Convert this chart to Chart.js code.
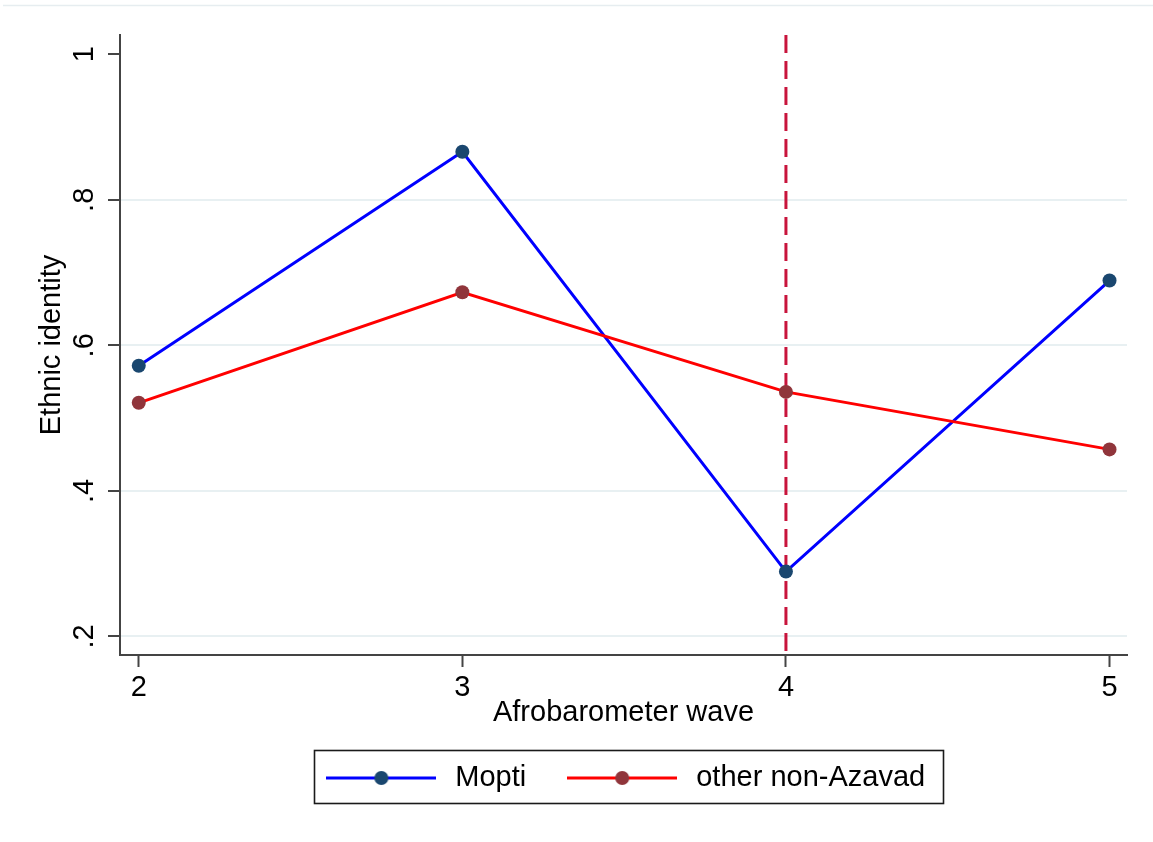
<!DOCTYPE html>
<html>
<head>
<meta charset="utf-8">
<script src="https://cdn.jsdelivr.net/npm/chart.js@4/dist/chart.umd.min.js"></script>
<style>
  html, body { margin: 0; padding: 0; background: #ffffff; }
  canvas { display: block; }
</style>
</head>
<body>
<canvas id="chart" width="1153" height="842"></canvas>
<script>
// Share of respondents identifying ethnically, by Afrobarometer wave
const waves = [2, 3, 4, 5];
const moptiValues = [0.572, 0.866, 0.289, 0.689];
const otherValues = [0.521, 0.673, 0.536, 0.457];
const seriesNames = ['Mopti', 'other non-Azavad'];

const xTickValues = [2, 3, 4, 5];
const xTickLabels = ['2', '3', '4', '5'];
const yTickValues = [0.2, 0.4, 0.6, 0.8, 1];
const yTickLabels = ['.2', '.4', '.6', '.8', '1'];

const eventWave = 4;          // reference line
const xRange = [1.942, 5.054];
const yRange = [0.1744, 1.0265];

const FONT = "'Liberation Sans', Arial, Helvetica, sans-serif";
Chart.defaults.font.family = FONT;
Chart.defaults.font.size = 29;
Chart.defaults.color = '#000000';

const AXIS = '#444444';
const GRID = '#e8f0f2';

// legend sample: a short line with a marker in the middle
function makeSample(lineColor, dotColor) {
  const c = document.createElement('canvas');
  c.width = 110; c.height = 18;
  const g = c.getContext('2d');
  g.strokeStyle = lineColor;
  g.lineWidth = 3;
  g.beginPath(); g.moveTo(0, 9); g.lineTo(110, 9); g.stroke();
  g.fillStyle = dotColor;
  g.beginPath(); g.arc(55, 9, 7, 0, Math.PI * 2); g.fill();
  return c;
}

const series = [
  { name: seriesNames[0], values: moptiValues, line: '#0000ff', marker: '#1a476f', order: 2 },
  { name: seriesNames[1], values: otherValues, line: '#ff0000', marker: '#90353b', order: 1 }
];

const datasets = series.map(s => ({
  label: s.name,
  data: waves.map((w, i) => ({ x: w, y: s.values[i] })),
  borderColor: s.line,
  borderWidth: 3,
  pointRadius: 7,
  pointHoverRadius: 7,
  pointBackgroundColor: s.marker,
  pointBorderWidth: 0,
  tension: 0,
  order: s.order
}));

datasets.push({
  label: 'event',
  data: [{ x: eventWave, y: yRange[1] }, { x: eventWave, y: yRange[0] }],
  borderColor: '#c8143c',
  borderWidth: 3,
  borderDash: [18, 8],
  pointRadius: 0,
  pointHoverRadius: 0,
  order: 10
});

// frame around the legend and the thin rule at the top of the page
const decorations = {
  id: 'decorations',
  afterDraw(chart) {
    const ctx = chart.ctx;
    ctx.save();
    ctx.strokeStyle = '#e6edf0';
    ctx.lineWidth = 1.5;
    ctx.beginPath(); ctx.moveTo(3, 5.5); ctx.lineTo(1153, 5.5); ctx.stroke();

    const hb = chart.legend.legendHitBoxes;
    if (hb && hb.length) {
      const first = hb[0], last = hb[hb.length - 1];
      const cy = first.top + first.height / 2;
      const left = Math.round(first.left - 7.5) + 0.5;
      const right = Math.round(last.left + last.width + 18) + 0.5;
      const top = Math.round(cy - 28) + 0.5;
      const bottom = Math.round(cy + 25) + 0.5;
      ctx.strokeStyle = '#1a1a1a';
      ctx.lineWidth = 1.6;
      ctx.strokeRect(left, top, right - left, bottom - top);
    }
    ctx.restore();
  }
};

new Chart(document.getElementById('chart'), {
  type: 'line',
  data: { datasets },
  options: {
    responsive: false,
    animation: false,
    devicePixelRatio: 1,
    layout: { padding: { top: 35, right: 26, bottom: 39.5, left: 0 } },
    scales: {
      x: {
        type: 'linear',
        min: xRange[0],
        max: xRange[1],
        afterBuildTicks: s => { s.ticks = xTickValues.map(v => ({ value: v })); },
        afterFit: s => { s.height = 72; },
        ticks: {
          autoSkip: false,
          minRotation: 0,
          maxRotation: 0,
          padding: 4,
          color: '#000',
          font: { size: 29 },
          callback: (v, i) => xTickLabels[i]
        },
        grid: {
          drawOnChartArea: false,
          drawTicks: true,
          tickLength: 12,
          tickColor: AXIS,
          tickWidth: 2,
          color: AXIS
        },
        border: { display: true, color: AXIS, width: 2 },
        title: {
          display: true,
          text: 'Afrobarometer wave',
          color: '#000',
          font: { size: 29 },
          padding: { top: 0, bottom: -3.2 }
        }
      },
      y: {
        type: 'linear',
        min: yRange[0],
        max: yRange[1],
        afterBuildTicks: s => { s.ticks = yTickValues.map(v => ({ value: v })); },
        afterFit: s => { s.width = 120; },
        ticks: {
          minRotation: 90,
          maxRotation: 90,
          crossAlign: 'center',
          padding: 11,
          color: '#000',
          font: { size: 29 },
          callback: (v, i) => yTickLabels[i]
        },
        grid: {
          color: c => (c.tick && c.tick.value === 1) ? 'rgba(0,0,0,0)' : GRID,
          lineWidth: 2,
          drawTicks: true,
          tickLength: 12,
          tickColor: AXIS,
          tickWidth: 2
        },
        border: { display: true, color: AXIS, width: 2 },
        title: {
          display: true,
          text: 'Ethnic identity',
          color: '#000',
          font: { size: 29 },
          padding: { top: 35, bottom: 0 }
        }
      }
    },
    plugins: {
      tooltip: { enabled: false },
      legend: {
        position: 'bottom',
        fullSize: false,
        align: 'center',
        labels: {
          usePointStyle: true,
          pointStyleWidth: 119,
          boxHeight: 29,
          padding: 36.5,
          color: '#000',
          font: { size: 29 },
          generateLabels: () => series.map((s, i) => ({
            text: s.name,
            pointStyle: makeSample(s.line, s.marker),
            fillStyle: s.marker,
            strokeStyle: s.line,
            lineWidth: 0,
            hidden: false,
            datasetIndex: i
          }))
        }
      }
    }
  },
  plugins: [decorations]
});
</script>
</body>
</html>
